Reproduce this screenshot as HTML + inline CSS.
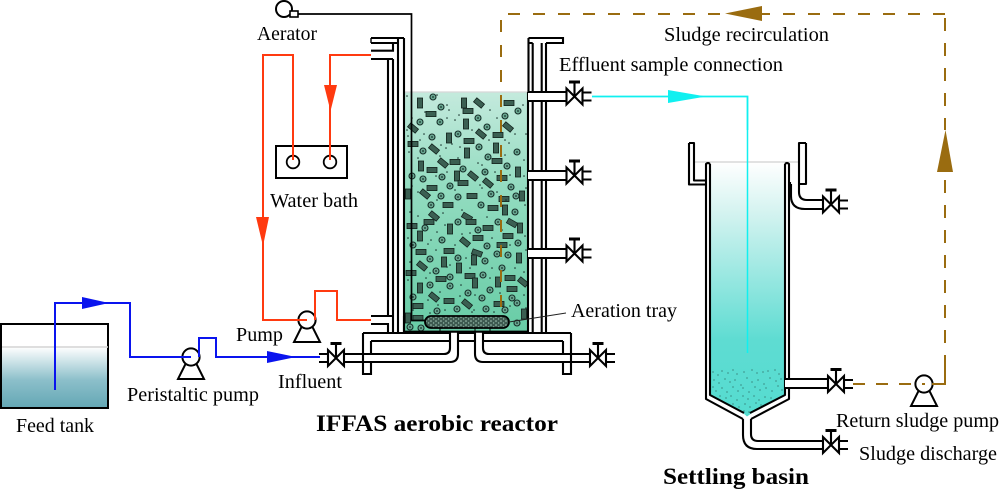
<!DOCTYPE html>
<html><head><meta charset="utf-8"><style>
html,body{margin:0;padding:0;background:#fff;width:1000px;height:493px;overflow:hidden}
svg{display:block}
text{font-family:"Liberation Serif",serif;font-size:19.5px;fill:#000}
text.b{font-weight:bold;font-size:23px}
</style></head><body>
<svg width="1000" height="493" viewBox="0 0 1000 493" xmlns="http://www.w3.org/2000/svg">
<defs>
<linearGradient id="gr" x1="0" y1="0" x2="0" y2="1"><stop offset="0" stop-color="#c4eadd"/><stop offset=".4" stop-color="#93dcc0"/><stop offset="1" stop-color="#68cca6"/></linearGradient>
<linearGradient id="gs" x1="0" y1="0" x2="0" y2="1"><stop offset="0" stop-color="#fff"/><stop offset=".2" stop-color="#d4f3f0"/><stop offset=".7" stop-color="#5edcd2"/><stop offset="1" stop-color="#55dcd0"/></linearGradient>
<linearGradient id="gf" x1="0" y1="0" x2="0" y2="1"><stop offset="0" stop-color="#fff"/><stop offset=".55" stop-color="#8cbfca"/><stop offset="1" stop-color="#65a8b5"/></linearGradient>
<pattern id="sp" width="5" height="4" patternUnits="userSpaceOnUse"><rect width="5" height="4" fill="#3e5a50"/><circle cx="1" cy="1" r=".8" fill="#a4c8b8"/><circle cx="3.6" cy="3" r=".7" fill="#8db5a4"/></pattern>
<g id="r"><rect x="-5" y="-2.6" width="10" height="5.2" fill="#3b5f52" stroke="#14241f" stroke-width=".8"/></g>
<g id="c"><circle r="3" fill="#6aa892" stroke="#17302a" stroke-width="1.1"/><circle r=".9" fill="#17302a"/></g>
<g id="v" stroke="#000" stroke-width="2.1" fill="#fff"><path d="M8 -4H17M8 4H17" fill="none"/><path d="M-8 -8L8 8V-8L-8 8Z"/><path d="M0 0V-14" fill="none"/><path d="M-5.5 -14.5H5.5" stroke-width="3" fill="none"/></g>
<g id="p" stroke="#000" stroke-width="2" fill="#fff"><path d="M-13 22H13L5 6H-5Z"/><circle r="8.6"/></g>
</defs>

<!-- Feed tank -->
<rect x="2" y="347" width="105" height="60" fill="url(#gf)"/>
<rect x="1" y="324" width="107" height="84" fill="none" stroke="#000" stroke-width="2"/>
<path d="M2 347H108" stroke="#d4d4d4" stroke-width="1.5"/>

<!-- Reactor water -->
<rect x="405" y="92" width="123" height="239" fill="url(#gr)"/>
<path d="M404 92H528" stroke="#d8d8d8" stroke-width="1.2"/>

<!-- media rects -->
<g>
<use href="#r" transform="translate(420,103) rotate(90)"/><use href="#r" transform="translate(431,114)"/><use href="#r" transform="translate(413,128) rotate(40)"/><use href="#r" transform="translate(413,144)"/><use href="#r" transform="translate(434,149) rotate(40)"/><use href="#r" transform="translate(449,138) rotate(90)"/><use href="#r" transform="translate(464,103) rotate(90)"/><use href="#r" transform="translate(468,111)"/><use href="#r" transform="translate(479,103) rotate(40)"/><use href="#r" transform="translate(466,124) rotate(90)"/><use href="#r" transform="translate(481,134) rotate(40)"/><use href="#r" transform="translate(469,141)"/><use href="#r" transform="translate(509,103)"/><use href="#r" transform="translate(508,127) rotate(40)"/><use href="#r" transform="translate(498,135)"/><use href="#r" transform="translate(496,148) rotate(90)"/><use href="#r" transform="translate(467,153) rotate(90)"/><use href="#r" transform="translate(443,163) rotate(40)"/><use href="#r" transform="translate(455,162)"/><use href="#r" transform="translate(421,166) rotate(90)"/><use href="#r" transform="translate(432,170)"/><use href="#r" transform="translate(457,176) rotate(90)"/><use href="#r" transform="translate(463,183)"/><use href="#r" transform="translate(473,176) rotate(40)"/><use href="#r" transform="translate(488,183) rotate(40)"/><use href="#r" transform="translate(497,161)"/><use href="#r" transform="translate(502,178)"/><use href="#r" transform="translate(518,172) rotate(90)"/><use href="#r" transform="translate(432,188)"/><use href="#r" transform="translate(425,194) rotate(40)"/><use href="#r" transform="translate(408,194) rotate(90)"/><use href="#r" transform="translate(472,196)"/><use href="#r" transform="translate(504,199)"/><use href="#r" transform="translate(522,196) rotate(90)"/>
<use href="#r" transform="translate(448,205)"/><use href="#r" transform="translate(429,222)"/><use href="#r" transform="translate(434,216) rotate(40)"/><use href="#r" transform="translate(467,217) rotate(30)"/><use href="#r" transform="translate(471,222)"/><use href="#r" transform="translate(493,208)"/><use href="#r" transform="translate(505,210) rotate(90)"/><use href="#r" transform="translate(512,223) rotate(30)"/><use href="#r" transform="translate(488,228)"/><use href="#r" transform="translate(450,229) rotate(90)"/><use href="#r" transform="translate(520,228) rotate(90)"/><use href="#r" transform="translate(412,226)"/>
<use href="#r" transform="translate(420,236) rotate(90)"/><use href="#r" transform="translate(465,242) rotate(40)"/><use href="#r" transform="translate(478,238)"/><use href="#r" transform="translate(508,236)"/><use href="#r" transform="translate(502,245)"/><use href="#r" transform="translate(421,252)"/><use href="#r" transform="translate(449,251)"/><use href="#r" transform="translate(477,253) rotate(20)"/><use href="#r" transform="translate(519,258) rotate(90)"/><use href="#r" transform="translate(474,260) rotate(90)"/><use href="#r" transform="translate(444,262) rotate(90)"/><use href="#r" transform="translate(422,266) rotate(40)"/><use href="#r" transform="translate(459,268) rotate(90)"/><use href="#r" transform="translate(470,276)"/><use href="#r" transform="translate(411,273)"/><use href="#r" transform="translate(441,279)"/><use href="#r" transform="translate(510,278)"/><use href="#r" transform="translate(523,282) rotate(40)"/><use href="#r" transform="translate(475,283) rotate(90)"/><use href="#r" transform="translate(498,282) rotate(90)"/><use href="#r" transform="translate(420,288) rotate(90)"/><use href="#r" transform="translate(512,289)"/><use href="#r" transform="translate(434,297) rotate(40)"/><use href="#r" transform="translate(449,301)"/><use href="#r" transform="translate(467,304) rotate(40)"/><use href="#r" transform="translate(499,304)"/><use href="#r" transform="translate(418,306)"/><use href="#r" transform="translate(524,314) rotate(90)"/><use href="#r" transform="translate(408,318) rotate(90)"/><use href="#r" transform="translate(418,318)"/>
</g>
<!-- media circles -->
<g>
<use href="#c" x="433" y="97"/><use href="#c" x="441" y="107"/><use href="#c" x="420" y="122"/><use href="#c" x="440" y="122"/><use href="#c" x="478" y="118"/><use href="#c" x="487" y="127"/><use href="#c" x="505" y="116"/><use href="#c" x="518" y="111"/><use href="#c" x="432" y="137"/><use href="#c" x="458" y="134"/><use href="#c" x="423" y="151"/><use href="#c" x="479" y="147"/><use href="#c" x="517" y="152"/><use href="#c" x="488" y="157"/><use href="#c" x="463" y="169"/><use href="#c" x="485" y="172"/><use href="#c" x="507" y="166"/><use href="#c" x="442" y="177"/><use href="#c" x="423" y="179"/><use href="#c" x="450" y="186"/><use href="#c" x="511" y="187"/><use href="#c" x="441" y="196"/><use href="#c" x="491" y="194"/><use href="#c" x="412" y="176"/>
<use href="#c" x="431" y="205"/><use href="#c" x="458" y="197"/><use href="#c" x="481" y="205"/><use href="#c" x="516" y="196"/><use href="#c" x="498" y="222"/><use href="#c" x="425" y="228"/><use href="#c" x="458" y="222"/><use href="#c" x="515" y="212"/><use href="#c" x="478" y="230"/>
<use href="#c" x="413" y="245"/><use href="#c" x="442" y="240"/><use href="#c" x="487" y="246"/><use href="#c" x="518" y="243"/><use href="#c" x="508" y="255"/><use href="#c" x="497" y="254"/><use href="#c" x="430" y="259"/><use href="#c" x="458" y="258"/><use href="#c" x="485" y="261"/><use href="#c" x="436" y="271"/><use href="#c" x="483" y="275"/><use href="#c" x="502" y="268"/><use href="#c" x="450" y="277"/><use href="#c" x="430" y="285"/><use href="#c" x="450" y="286"/><use href="#c" x="490" y="290"/><use href="#c" x="468" y="293"/><use href="#c" x="512" y="298"/><use href="#c" x="482" y="298"/><use href="#c" x="413" y="297"/><use href="#c" x="517" y="303"/><use href="#c" x="486" y="309"/><use href="#c" x="457" y="309"/><use href="#c" x="437" y="311"/><use href="#c" x="505" y="310"/><use href="#c" x="410" y="327"/><use href="#c" x="421" y="328"/><use href="#c" x="517" y="323"/>
</g>
<!-- media dots -->
<path fill="none" stroke="#17302a" stroke-width="1.6" stroke-linecap="round" d="M407 96h.01M437 95h.01M447 105h.01M449 110h.01M425 112h.01M412 118h.01M447 118h.01M455 120h.01M459 115h.01M490 110h.01M497 118h.01M523 105h.01M526 134h.01M515 134h.01M509 143h.01M505 140h.01M407 130h.01M408 136h.01M420 140h.01M424 134h.01M441 145h.01M446 148h.01M452 144h.01M460 147h.01M472 130h.01M489 140h.01M409 152h.01M418 158h.01M440 156h.01M458 158h.01M478 163h.01M482 165h.01M505 155h.01M524 160h.01M524 176h.01M436 176h.01M447 172h.01M480 185h.01M495 172h.01M510 175h.01M526 188h.01M412 186h.01M418 192h.01M455 190h.01M482 188h.01M497 192h.01M437 200h.01M410 212h.01M418 216h.01M443 213h.01M462 210h.01M487 217h.01M506 200h.01M525 205h.01M437 232h.01M445 225h.01M462 234h.01M502 230h.01M525 236h.01M408 238h.01M428 244h.01M431 240h.01M455 245h.01M470 233h.01M492 238h.01M510 245h.01M526 250h.01M436 250h.01M466 258h.01M492 268h.01M515 268h.01M410 262h.01M447 267h.01M450 265h.01M470 268h.01M430 273h.01M426 278h.01M461 285h.01M490 278h.01M524 272h.01M408 280h.01M440 292h.01M460 296h.01M475 295h.01M500 293h.01M524 295h.01M428 300h.01M438 305h.01M445 310h.01M474 310h.01M494 312h.01M510 306h.01M526 308h.01M413 310h.01M430 313h.01M472 312h.01"/>

<!-- Left reactor wall / pipes -->
<g fill="none" stroke="#000" stroke-width="2.1">
<path d="M404 92V332M398 38V316M404 38V92M388 59V316M393 59V316"/>
<path d="M371 38H404M371 43H398M371 50.700H393V44M371 59H393"/>
<path d="M371 316H393M371 324H388V332M393 316V332M398 316V332M404 316V332"/>
<path d="M371 38V43" stroke-width="1.4"/>
</g>
<!-- Tank bottom & right wall -->
<g fill="none" stroke="#000" stroke-width="2.1">
<path d="M404 331.700H528V92"/>
<path d="M532.700 43V332M541.700 43V332M546 43V332M528.500 38V92M528.500 38H563V43H546M532.700 43H528.500"/>
</g>
<!-- Effluent ports -->
<g stroke="#000" stroke-width="2.1" fill="#fff">
<path d="M528 92H566V101H528Z" stroke="none"/><path d="M528 92H566M528 101H566" fill="none"/>
<path d="M528 171H566V180H528Z" stroke="none"/><path d="M528 171H566M528 180H566" fill="none"/>
<path d="M528 249H566V258H528Z" stroke="none"/><path d="M528 249H566M528 258H566" fill="none"/>
</g>
<use href="#v" x="574.500" y="96.500"/><use href="#v" x="574.500" y="175.500"/><use href="#v" x="574.500" y="253.500"/>

<!-- Bottom piping -->
<g stroke="#000" stroke-width="2.1" fill="none">
<path d="M363 333V374H371V362M363 333H450M371 341H450M371 341V354M363 354V362"/>
<path d="M571 333V374H563V362M571 333H483M563 341H483M563 341V354"/>
<path d="M458 341H475M458 333H475"/>
<path d="M344 354H444Q450 354 450 348V332M344 362H450Q458 362 458 354V332"/>
<path d="M589 354H489Q483 354 483 348V332M589 362H483Q475 362 475 354V332"/>
</g>
<use href="#v" transform="translate(336,358) scale(-1,1)"/><use href="#v" x="598" y="358"/>

<!-- Aeration tray -->
<rect x="425" y="316" width="84" height="12" rx="6" fill="url(#sp)" stroke="#000" stroke-width="1.8"/>
<path d="M440 328V332M490 328V332M475 328V332" stroke="#000" stroke-width="1"/>
<path d="M509 322L566 313" stroke="#222" stroke-width="1" fill="none"/>

<!-- Aerator -->
<circle cx="284" cy="9" r="8" fill="#fff" stroke="#000" stroke-width="2"/>
<rect x="290" y="11" width="8" height="6" fill="#fff" stroke="#000" stroke-width="1.6"/>
<path d="M298 14H411.500V320.500H425" fill="none" stroke="#000" stroke-width="1.7"/>

<!-- Water bath -->
<rect x="276" y="146" width="71" height="32" fill="#fff" stroke="#000" stroke-width="2"/>
<circle cx="293" cy="162" r="6.300" fill="none" stroke="#000" stroke-width="1.8"/>
<circle cx="330" cy="162" r="6.300" fill="none" stroke="#000" stroke-width="1.8"/>

<!-- Pumps -->
<use href="#p" x="307" y="320"/><use href="#p" x="191" y="357"/><use href="#p" x="924" y="384"/>

<!-- Red -->
<g fill="none" stroke="#ff3a10" stroke-width="2">
<path d="M293 160V55H263V320H307"/>
<path d="M330 160V55H371"/>
<path d="M315 320V291H337V320H371"/>
</g>
<path d="M324 85H337L330.500 111Z" fill="#ff3a10"/>
<path d="M256 217H269L263 246Z" fill="#ff3a10"/>

<!-- Blue -->
<g fill="none" stroke="#0a14ee" stroke-width="2">
<path d="M55 390V303H130V357H191"/>
<path d="M199 357V338H216V357H320"/>
</g>
<path d="M82 297L109 303L82 309Z" fill="#0a14ee"/>
<path d="M267 351L296 357L267 363Z" fill="#0a14ee"/>

<!-- Settling basin -->
<path d="M710 162H785V395L752 413L747 416.500L743 413L710 395Z" fill="url(#gs)"/>
<path fill="none" stroke="#17302a" stroke-width="1.1" stroke-linecap="round" d="M713 372h.01M718 375h.01M722 371h.01M728 373h.01M733 370h.01M737 374h.01M744 372h.01M752 370h.01M757 373h.01M763 372h.01M768 371h.01M775 370h.01M779 374h.01M714 380h.01M719 383h.01M725 379h.01M730 382h.01M735 380h.01M741 385h.01M747 378h.01M752 382h.01M758 380h.01M764 384h.01M770 378h.01M776 381h.01M781 379h.01M713 387h.01M716 391h.01M722 388h.01M727 392h.01M733 387h.01M738 391h.01M743 388h.01M749 392h.01M755 387h.01M760 390h.01M766 388h.01M772 391h.01M778 386h.01M782 390h.01M720 396h.01M726 398h.01M731 396h.01M737 400h.01M743 396h.01M748 399h.01M754 396h.01M759 400h.01M765 397h.01M771 398h.01M733 404h.01M739 407h.01M745 404h.01M750 407h.01M756 403h.01M761 405h.01M744 411h.01M749 412h.01"/>
<path d="M694 162H800" stroke="#d0d0d0" stroke-width="1.2"/>
<path d="M747.500 130V353" stroke="#10f0f0" stroke-width="1.500" fill="none"/>
<!-- walls -->
<g fill="none" stroke="#000" stroke-width="2.1" stroke-linejoin="round">
<path d="M706 184V399L743 419M710 164V395L744 413M710 164Q708 162 706 164V184"/>
<path d="M789 164V399L751 419M785 164V395L750 413M785 164Q787 162 789 164V184"/>
<path d="M689 143H694V180.500H706M689 143V184.500H706"/>
<path d="M806 143H799V184M806 143V184H799"/>
<path d="M790 182V190"/>
<path d="M799 184V192Q799 200 807 200H823M791 184V196Q791 209 805 209H823"/>
<path d="M743 419V435Q743 449 757 449H823M751 419V434Q751 441 758 441H823"/>
</g>
<path d="M785 379H828V388H785Z" fill="#fff"/>
<path d="M785 379H828M785 388H828" stroke="#000" stroke-width="2.1" fill="none"/>
<use href="#v" x="831" y="204.500"/><use href="#v" x="836" y="384"/><use href="#v" x="831" y="445"/>

<!-- Cyan -->
<path d="M592 96.500H747.500V130" fill="none" stroke="#10f0f0" stroke-width="1.800"/>
<path d="M668 90L706 96.500L668 103Z" fill="#10f0f0"/>

<!-- Brown -->
<g fill="none" stroke="#9a6c10" stroke-width="2">
<path d="M853 384H925" stroke-dasharray="12 11"/>
<path d="M932 384H945V368"/>
<path d="M945 368V172" stroke-dasharray="13 12"/>
<path d="M945 14V130" stroke-dasharray="13 12" stroke-dashoffset="-4"/>
<path d="M945 14H501V310" stroke-dasharray="12 13"/>
</g>
<path d="M945.500 130L953 172H937Z" fill="#9a6c10"/>
<path d="M725 13.500L762 6V21Z" fill="#9a6c10"/>

<!-- Text -->
<text x="257" y="40" textLength="60" lengthAdjust="spacingAndGlyphs">Aerator</text>
<text x="270" y="207" textLength="88" lengthAdjust="spacingAndGlyphs">Water bath</text>
<text x="664" y="41" textLength="165" lengthAdjust="spacingAndGlyphs">Sludge recirculation</text>
<text x="559" y="71" textLength="224" lengthAdjust="spacingAndGlyphs">Effluent sample connection</text>
<text x="571" y="317" textLength="106" lengthAdjust="spacingAndGlyphs">Aeration tray</text>
<text x="236" y="341" textLength="47" lengthAdjust="spacingAndGlyphs">Pump</text>
<text x="278" y="388" textLength="64" lengthAdjust="spacingAndGlyphs">Influent</text>
<text x="127" y="401" textLength="132" lengthAdjust="spacingAndGlyphs">Peristaltic pump</text>
<text x="16" y="432" textLength="78" lengthAdjust="spacingAndGlyphs">Feed tank</text>
<text x="836" y="427" textLength="163" lengthAdjust="spacingAndGlyphs">Return sludge pump</text>
<text x="859" y="460" textLength="138" lengthAdjust="spacingAndGlyphs">Sludge discharge</text>
<text class="b" x="316" y="431" textLength="242" lengthAdjust="spacingAndGlyphs">IFFAS aerobic reactor</text>
<text class="b" x="663" y="484" textLength="146" lengthAdjust="spacingAndGlyphs">Settling basin</text>
</svg>
</body></html>
